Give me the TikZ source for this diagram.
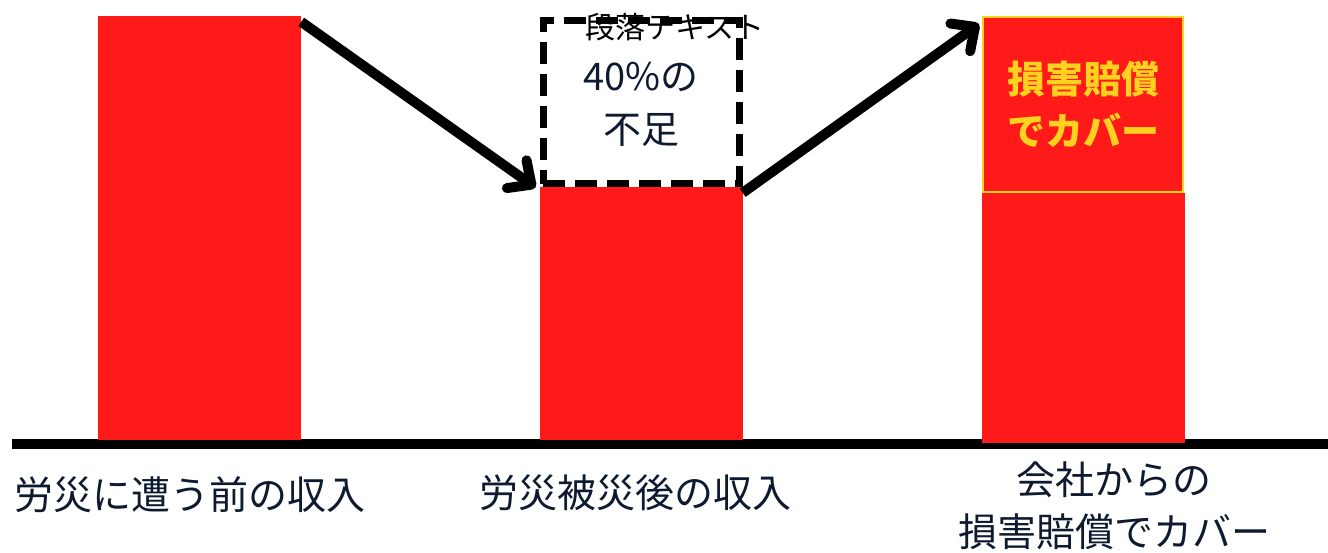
\documentclass[tikz,border=0pt]{standalone}
\usepackage{fontspec}
\newfontfamily\jp{Noto Sans CJK JP}
\usetikzlibrary{arrows.meta}
\definecolor{barred}{HTML}{FF1A1A}
\definecolor{coveryellow}{HTML}{FFD21F}
\definecolor{labelnavy}{HTML}{0E1A30}
\begin{document}
\begin{tikzpicture}[x=1pt,y=-1pt,
    bar/.style={fill=barred,inner sep=0pt,minimum width=203pt},
    jump/.style={line width=10pt,-{Straight Barb[length=18pt,width=34pt,round]}},
    axislabel/.style={font=\jp\fontsize{39}{52}\selectfont,text=labelnavy,align=center}]
      \useasboundingbox (0,0) rectangle (1328,553);
      \begin{scope}
        \draw[line width=10pt] (12,444) coordinate (axisL) -- (1328,444) coordinate (axisR);
        \node[bar,minimum height=424pt] (before) at (199.5,228)  {};
        \node[bar,minimum height=253pt] (after)  at (641,313.5)  {};
        \node[bar,minimum height=250pt] (paid)   at (1083.5,318) {};
        \node[draw=black,line width=7pt,dash pattern=on 22pt off 10pt,
              minimum width=196pt,minimum height=163pt] (loss) at (641,102.5) {};
        \node[bar,draw=coveryellow,line width=2pt,minimum width=200pt,
              minimum height=175pt] (cover) at (1083,104.5) {};
      \end{scope}
      \node[font=\jp\fontsize{30}{36}\selectfont] (dummy) at (675,27) {段落テキスト};
      \node[font=\jp\fontsize{38}{53}\selectfont,text=labelnavy,align=center] (gaptext) at (641,104) {40\%の\\不足};
      \node[font=\jp\bfseries\fontsize{38}{52}\selectfont,text=coveryellow,align=center] (covertext) at (1083,104) {損害賠償\\でカバー};
      \draw[jump] ([yshift=-6pt]before.north east) -- ([xshift=-4pt]loss.south west);
      \draw[jump] ([yshift=-6pt]after.north east) -- ([xshift=-3pt,yshift=-8pt]cover.north west);
      \node[axislabel] (beforelabel) at (190,495)  {労災に遭う前の収入};
      \node[axislabel] (afterlabel)  at (635,493)  {労災被災後の収入};
      \node[axislabel] (paidlabel)   at (1114,506) {会社からの\\損害賠償でカバー};
    \end{tikzpicture}
\end{document}
